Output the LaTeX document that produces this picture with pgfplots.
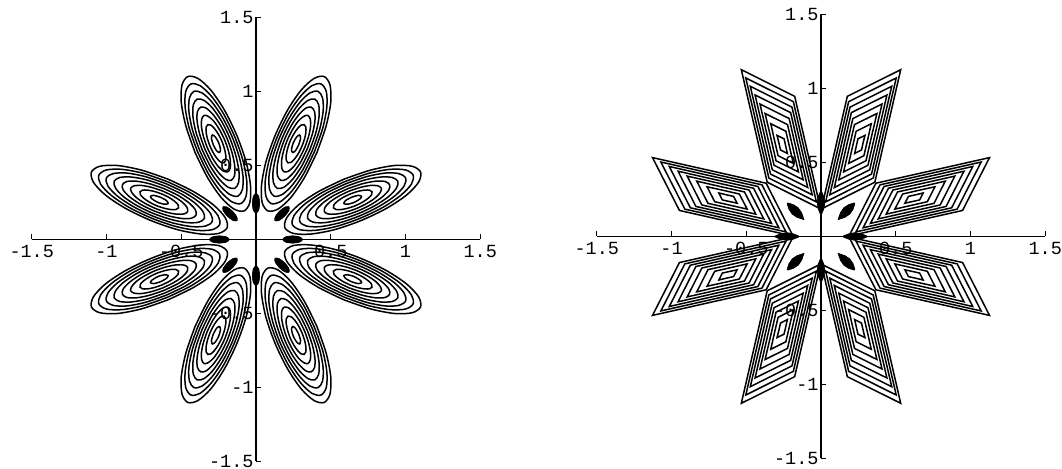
\documentclass[border=0pt]{standalone}
\usepackage{fontspec}
\setmonofont{Liberation Mono}
\usepackage{pgfplots}
\usepackage{pgfplotstable}
\pgfplotsset{compat=1.18}

% ---------- one lobe of the smooth contour plot (lobe at 22.5 deg) ----------
\pgfplotstableread{
x y
0.589 0.408
0.420 0.325
0.285 0.234
0.206 0.148
0.193 0.080
0.250 0.041
0.367 0.037
0.527 0.067
0.705 0.129
0.874 0.211
1.009 0.302
1.088 0.388
1.101 0.456
1.044 0.495
0.927 0.500
0.767 0.469
0.589 0.408
}\ringA
\pgfplotstableread{
x y
0.596 0.392
0.445 0.319
0.325 0.238
0.254 0.161
0.243 0.101
0.294 0.066
0.398 0.062
0.540 0.089
0.698 0.144
0.849 0.217
0.969 0.299
1.040 0.375
1.051 0.435
1.000 0.470
0.896 0.474
0.754 0.447
0.596 0.392
}\ringB
\pgfplotstableread{
x y
0.602 0.377
0.470 0.313
0.365 0.241
0.303 0.174
0.293 0.121
0.337 0.091
0.429 0.087
0.553 0.111
0.692 0.159
0.824 0.224
0.929 0.295
0.991 0.362
1.001 0.415
0.957 0.445
0.865 0.449
0.741 0.425
0.602 0.377
}\ringC
\pgfplotstableread{
x y
0.609 0.361
0.496 0.306
0.407 0.245
0.354 0.188
0.345 0.143
0.383 0.117
0.461 0.114
0.567 0.135
0.685 0.175
0.798 0.230
0.888 0.291
0.940 0.348
0.949 0.393
0.911 0.419
0.833 0.422
0.727 0.402
0.609 0.361
}\ringD
\pgfplotstableread{
x y
0.616 0.344
0.523 0.299
0.450 0.249
0.407 0.203
0.400 0.166
0.431 0.144
0.495 0.142
0.582 0.159
0.679 0.192
0.771 0.237
0.844 0.287
0.888 0.334
0.894 0.370
0.863 0.392
0.800 0.394
0.713 0.377
0.616 0.344
}\ringE
\pgfplotstableread{
x y
0.623 0.327
0.552 0.292
0.495 0.254
0.462 0.218
0.457 0.189
0.480 0.173
0.530 0.171
0.597 0.184
0.671 0.209
0.742 0.244
0.799 0.282
0.832 0.319
0.838 0.347
0.814 0.363
0.765 0.365
0.698 0.352
0.623 0.327
}\ringF
\pgfplotstableread{
x y
0.631 0.308
0.582 0.284
0.544 0.258
0.521 0.234
0.518 0.214
0.534 0.203
0.567 0.202
0.613 0.211
0.664 0.228
0.712 0.252
0.750 0.278
0.773 0.302
0.776 0.322
0.760 0.333
0.727 0.334
0.681 0.325
0.631 0.308
}\ringG
\pgfplotstableread{
x y
0.640 0.286
0.600 0.264
0.588 0.244
0.611 0.238
0.655 0.250
0.694 0.273
0.706 0.292
0.683 0.298
0.640 0.286
}\ringH
% small dark ovals near the centre
\pgfplotstableread{
x y
0.245 0.021
0.201 0.015
0.183 0.000
0.201 -0.015
0.245 -0.021
0.289 -0.015
0.307 0.000
0.289 0.015
0.245 0.021
}\ovalAxis
\pgfplotstableread{
x y
0.1592 0.1888
0.1326 0.1535
0.1300 0.1300
0.1535 0.1326
0.1888 0.1592
0.2154 0.1945
0.2180 0.2180
0.1945 0.2154
0.1592 0.1888
}\ovalDiag

% ---------- one lobe of the piecewise-linear contour plot ----------
\pgfplotstableread{
x y
0.747 0.4465
0.367 0.360
0.187 0.003
0.947 0.176
1.127 0.533
0.747 0.4465
nan nan
0.733 0.426
0.395 0.349
0.234 0.031
0.911 0.185
1.071 0.503
0.733 0.426
nan nan
0.718 0.405
0.422 0.338
0.282 0.059
0.874 0.194
1.015 0.473
0.718 0.405
nan nan
0.703 0.383
0.451 0.326
0.331 0.089
0.837 0.203
0.956 0.441
0.703 0.383
nan nan
0.688 0.361
0.481 0.314
0.383 0.119
0.797 0.213
0.895 0.408
0.688 0.361
nan nan
0.672 0.337
0.512 0.301
0.436 0.151
0.756 0.224
0.831 0.374
0.672 0.337
nan nan
0.654 0.312
0.546 0.287
0.494 0.185
0.711 0.235
0.762 0.336
0.654 0.312
nan nan
0.634 0.282
0.585 0.271
0.561 0.225
0.660 0.247
0.683 0.294
0.634 0.282
}\rhombi
\pgfplotstableread{
x y
0.150 0.000
0.190 0.016
0.228 0.022
0.266 0.016
0.305 0.000
0.266 -0.016
0.228 -0.022
0.190 -0.016
0.150 0.000
}\lensAxis
\pgfplotstableread{
x y
0.224 0.224
0.185 0.211
0.154 0.190
0.133 0.159
0.120 0.120
0.159 0.133
0.190 0.154
0.211 0.185
0.224 0.224
}\lensDiag

% draw a lobe together with its seven images under the symmetries of the square
\newcommand{\dihedral}[2]{%
  \addplot[#1] table[x=x, y=y] {#2};
  \addplot[#1] table[x=y, y=x] {#2};
  \addplot[#1] table[x expr=-\thisrow{x}, y=y] {#2};
  \addplot[#1] table[x expr=-\thisrow{y}, y=x] {#2};
  \addplot[#1] table[x=x, y expr=-\thisrow{y}] {#2};
  \addplot[#1] table[x=y, y expr=-\thisrow{x}] {#2};
  \addplot[#1] table[x expr=-\thisrow{x}, y expr=-\thisrow{y}] {#2};
  \addplot[#1] table[x expr=-\thisrow{y}, y expr=-\thisrow{x}] {#2};
}

\pgfplotsset{
  contourax/.style={
    axis lines=middle,
    axis line style={-, line width=1.3bp},
    xmin=-1.5, xmax=1.5, ymin=-1.5, ymax=1.5,
    x=149.5bp, y=148bp,
    anchor=origin,
    xtick={-1.5,-1,-0.5,0.5,1,1.5},
    ytick={-1.5,-1,-0.5,0.5,1,1.5},
    xticklabels={-1.5,-1,-0.5,0.5,1,1.5},
    yticklabels={-1.5,-1,-0.5,0.5,1,1.5},
    tick align=inside,
    major tick length=5bp,
    tick style={black, line width=1bp},
    ticklabel style={font=\ttfamily\fontsize{18.5bp}{19bp}\selectfont},
    xticklabel style={yshift=-2bp},
    yticklabel style={xshift=1bp},
    clip=false,
    unbounded coords=jump,
  },
  lobe/.style={black, line width=1.5bp},
}

\begin{document}
\begin{tikzpicture}
\useasboundingbox (0,0) rectangle (1062bp,469bp);

% smooth lobes
\begin{axis}[contourax, at={(256bp,229.5bp)}]
  \dihedral{lobe, smooth}{\ringA}
  \dihedral{lobe, smooth}{\ringB}
  \dihedral{lobe, smooth}{\ringC}
  \dihedral{lobe, smooth}{\ringD}
  \dihedral{lobe, smooth}{\ringE}
  \dihedral{lobe, smooth}{\ringF}
  \dihedral{lobe, smooth}{\ringG}
  \dihedral{lobe, smooth}{\ringH}
  \dihedral{lobe, smooth, fill=black}{\ovalAxis}
  \dihedral{lobe, smooth, fill=black}{\ovalDiag}
\end{axis}

% piecewise-linear lobes
\begin{axis}[contourax, at={(821bp,232.5bp)}]
  \dihedral{lobe, line join=miter}{\rhombi}
  \dihedral{lobe, fill=black}{\lensAxis}
  \dihedral{lobe, fill=black}{\lensDiag}
\end{axis}
\end{tikzpicture}
\end{document}
